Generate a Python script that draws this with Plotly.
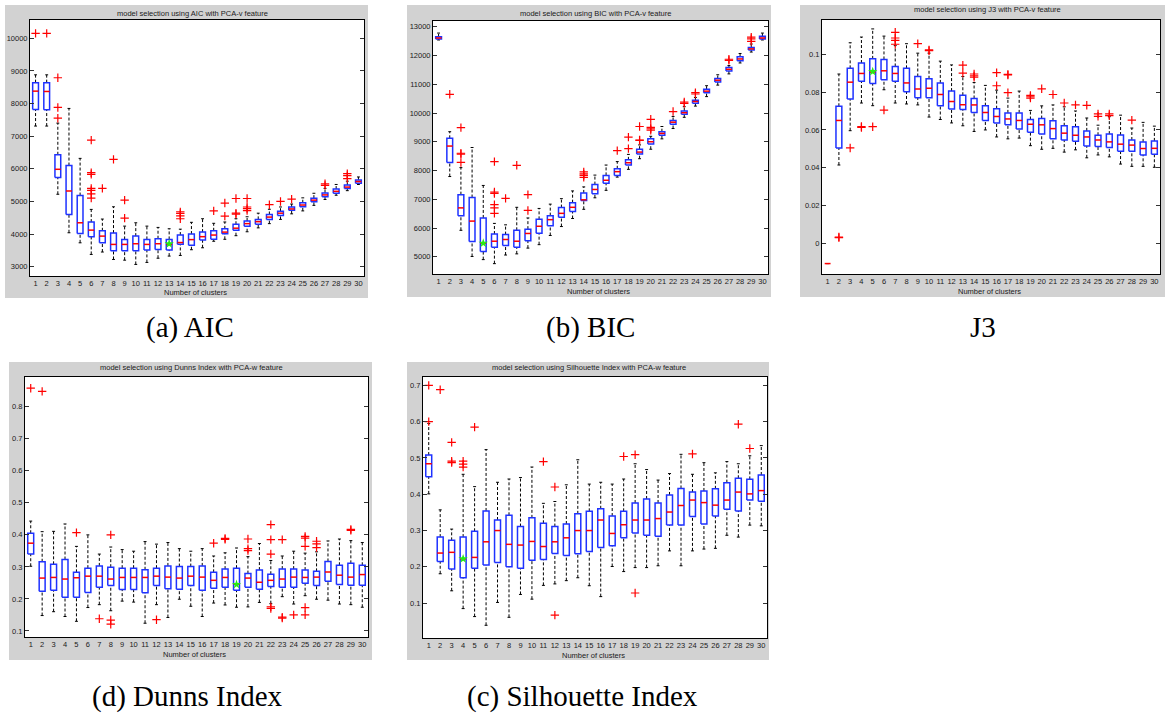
import plotly.graph_objects as go

W, H = 1167, 715
clusters = list(range(1, 31))

# ---------------- AIC ----------------
aic_upper = [8880, 8880, 7400, 7850, 6320, 4756, 4460, 4836, 4244, 4346, 4244, 4204, 4163, 4150, 4360,
             4470, 4330, 4370, 4470, 4530, 4640, 4760, 4830, 4920, 5110, 5250, 5400, 5520, 5620, 5750]
aic_q3 = [8640, 8640, 6430, 6100, 5180, 4367, 4100, 4030, 3836, 3937, 3836, 3857, 3836, 3970, 4000,
          4060, 4100, 4160, 4300, 4400, 4450, 4600, 4700, 4830, 4960, 5100, 5260, 5380, 5500, 5660]
aic_med = [8380, 8370, 5985, 5320, 4346, 4121, 3937, 3683, 3683, 3704, 3683, 3704, 3683, 3740, 3830,
           3920, 3970, 4060, 4180, 4320, 4380, 4520, 4640, 4770, 4890, 5040, 5200, 5310, 5440, 5610]
aic_q1 = [7820, 7810, 5730, 4600, 4020, 3916, 3733, 3487, 3487, 3487, 3508, 3530, 3508, 3690, 3660,
          3820, 3840, 4010, 4120, 4240, 4300, 4450, 4570, 4730, 4840, 4990, 5140, 5250, 5400, 5560]
aic_lower = [7310, 7310, 5220, 4040, 3732, 3376, 3450, 3222, 3200, 3070, 3131, 3260, 3325, 3345, 3520,
             3580, 3780, 3840, 3950, 4070, 4190, 4320, 4450, 4620, 4710, 4880, 5060, 5190, 5330, 5520]
aic_outliers = [[10150], [10150], [8790, 7880, 7550], [], [], [6880, 5880, 5830, 5400, 5340, 5230, 5100],
                [5400], [6290], [5040, 4490], [], [], [], [], [4680, 4630, 4560, 4470], [], [], [4710],
                [4950, 4550], [5090, 4640, 4610], [5090, 4830, 4780, 4720], [], [4900], [5000], [5070],
                [], [], [5540, 5490], [], [5850, 5790, 5700], []]
aic_best = (13, 3700)

# ---------------- BIC ----------------
bic_upper = [12780, 9350, 8100, 8800, 7480, 6160, 6110, 6720, 6350, 6680, 6830, 7020, 7290, 7430, 7840,
             8190, 8310, 8560, 8890, 9190, 9530, 9880, 10220, 10540, 10950, 11330, 11650, 12070, 12400, 12780]
bic_q3 = [12650, 9120, 7160, 7060, 6350, 5790, 5770, 5920, 5960, 6300, 6430, 6710, 6880, 7220, 7510,
          7830, 8060, 8370, 8740, 9100, 9350, 9740, 10070, 10440, 10830, 11200, 11580, 11960, 12280, 12670]
bic_med = [12610, 8850, 6700, 6240, 5470, 5540, 5600, 5540, 5810, 6060, 6290, 6510, 6720, 6980, 7340,
           7660, 7960, 8270, 8640, 9000, 9290, 9680, 10010, 10400, 10760, 11140, 11520, 11880, 12230, 12610]
bic_q1 = [12570, 8280, 6430, 5530, 5180, 5330, 5390, 5330, 5560, 5820, 6080, 6370, 6570, 6960, 7190,
          7560, 7830, 8190, 8570, 8920, 9230, 9610, 9960, 10340, 10700, 11080, 11460, 11820, 12190, 12570]
bic_lower = [12540, 7790, 5920, 5010, 4900, 4760, 5060, 5100, 5300, 5420, 5740, 6050, 6330, 6650, 7050,
             7310, 7770, 8040, 8410, 8740, 9100, 9460, 9850, 10240, 10570, 10970, 11360, 11740, 12120, 12540]
bic_outliers = [[], [10650], [9490, 8600, 8570, 8280], [], [], [8310, 7250, 7200, 6810, 6700, 6510],
                [7030], [8180], [7160, 6610], [], [], [], [], [7950, 7880, 7830, 7760], [], [], [8690],
                [9160, 8760], [9530, 9060, 9050], [9780, 9500, 9450, 9400], [], [10050], [10380, 10330],
                [10710, 10660], [], [], [11870, 11830], [], [12640, 12580, 12490], []]
bic_best = (5, 5470)

# ---------------- J3 ----------------
j3_upper = [-0.0105, 0.0895, 0.1060, 0.1090, 0.1133, 0.1095, 0.1045, 0.1055, 0.1005, 0.1005, 0.0963,
            0.0943, 0.0882, 0.0850, 0.0835, 0.0810, 0.0768, 0.0805, 0.0703, 0.0727, 0.0732, 0.0722,
            0.0700, 0.0663, 0.0625, 0.0670, 0.0678, 0.0610, 0.0640, 0.0620]
j3_q3 = [-0.0105, 0.0725, 0.0925, 0.0953, 0.0975, 0.0972, 0.0935, 0.0925, 0.0882, 0.0870, 0.0848,
         0.0805, 0.0783, 0.0766, 0.0728, 0.0712, 0.0690, 0.0690, 0.0655, 0.0660, 0.0648, 0.0622,
         0.0617, 0.0595, 0.0572, 0.0578, 0.0573, 0.0547, 0.0537, 0.0542]
j3_med = [-0.0105, 0.0650, 0.0852, 0.0898, 0.0905, 0.0912, 0.0898, 0.0848, 0.0816, 0.0820, 0.0787,
          0.0750, 0.0733, 0.0732, 0.0692, 0.0671, 0.0658, 0.0650, 0.0630, 0.0627, 0.0607, 0.0583,
          0.0572, 0.0563, 0.0547, 0.0537, 0.0525, 0.0520, 0.0502, 0.0503]
j3_q1 = [-0.0105, 0.0505, 0.0763, 0.0857, 0.0845, 0.0865, 0.0857, 0.0802, 0.0770, 0.0770, 0.0727,
         0.0710, 0.0708, 0.0692, 0.0650, 0.0637, 0.0627, 0.0605, 0.0588, 0.0578, 0.0553, 0.0547,
         0.0540, 0.0515, 0.0513, 0.0508, 0.0488, 0.0487, 0.0468, 0.0472]
j3_lower = [-0.0105, 0.0415, 0.0596, 0.0742, 0.0728, 0.0812, 0.0742, 0.0737, 0.0732, 0.0668, 0.0655,
            0.0637, 0.0622, 0.0592, 0.0600, 0.0563, 0.0553, 0.0557, 0.0517, 0.0498, 0.0503, 0.0483,
            0.0495, 0.0453, 0.0468, 0.0458, 0.0420, 0.0408, 0.0408, 0.0403]
j3_outliers = [[], [0.0035, 0.0032], [0.0505], [0.0618, 0.0613], [0.0617], [0.0705],
               [0.1115, 0.1085, 0.1072, 0.1052], [], [0.1055], [0.1022, 0.1018], [], [], [0.0942, 0.0900],
               [0.0895, 0.0885, 0.0878], [], [0.0902, 0.0833], [0.0893, 0.0890, 0.0797], [],
               [0.0782, 0.0775, 0.0768], [0.0817], [0.0787], [0.0742], [0.0732], [0.0730],
               [0.0685, 0.0672], [0.0685, 0.0675], [], [0.0652], [], []]
j3_best = (5, 0.0908)

# ---------------- Dunns Index ----------------
dunn_upper = [0.443, 0.410, 0.411, 0.434, 0.364, 0.400, 0.340, 0.362, 0.354, 0.349, 0.379, 0.371, 0.376,
              0.357, 0.349, 0.357, 0.334, 0.344, 0.359, 0.332, 0.373, 0.320, 0.334, 0.349, 0.343, 0.347,
              0.381, 0.387, 0.382, 0.376]
dunn_q3 = [0.405, 0.316, 0.308, 0.323, 0.283, 0.296, 0.303, 0.299, 0.296, 0.296, 0.291, 0.296, 0.303,
           0.301, 0.301, 0.303, 0.283, 0.293, 0.296, 0.279, 0.290, 0.277, 0.293, 0.293, 0.290, 0.286,
           0.317, 0.305, 0.311, 0.305]
dunn_med = [0.374, 0.265, 0.267, 0.262, 0.266, 0.271, 0.271, 0.262, 0.267, 0.267, 0.267, 0.271, 0.268,
            0.265, 0.271, 0.268, 0.258, 0.267, 0.246, 0.265, 0.252, 0.258, 0.262, 0.268, 0.267, 0.268,
            0.284, 0.274, 0.268, 0.276]
dunn_q1 = [0.340, 0.224, 0.227, 0.205, 0.205, 0.220, 0.236, 0.242, 0.229, 0.229, 0.219, 0.242, 0.232,
           0.230, 0.242, 0.227, 0.233, 0.236, 0.227, 0.236, 0.230, 0.239, 0.236, 0.236, 0.249, 0.242,
           0.255, 0.245, 0.243, 0.243]
dunn_lower = [0.302, 0.148, 0.160, 0.145, 0.130, 0.173, 0.182, 0.163, 0.193, 0.190, 0.124, 0.182, 0.142,
              0.199, 0.177, 0.145, 0.187, 0.181, 0.174, 0.175, 0.189, 0.185, 0.207, 0.184, 0.210, 0.199,
              0.196, 0.184, 0.182, 0.174]
dunn_outliers = [[0.858], [0.848], [], [], [0.407], [], [0.138], [0.400, 0.134, 0.121], [], [], [],
                 [0.135], [], [], [], [], [0.374], [0.389, 0.386], [], [0.387, 0.357, 0.351], [],
                 [0.432, 0.385, 0.340, 0.175, 0.170], [0.385, 0.143, 0.140], [0.150],
                 [0.395, 0.390, 0.364, 0.173, 0.150], [0.380, 0.372, 0.360], [], [], [0.417, 0.414], []]
dunn_best = (19, 0.245)

# ---------------- Silhouette Index ----------------
sil_upper = [0.595, 0.357, 0.304, 0.455, 0.421, 0.523, 0.433, 0.442, 0.446, 0.475, 0.375, 0.380, 0.426,
             0.495, 0.428, 0.433, 0.428, 0.442, 0.484, 0.468, 0.439, 0.457, 0.510, 0.455, 0.487, 0.459,
             0.490, 0.484, 0.506, 0.534]
sil_q3 = [0.508, 0.282, 0.273, 0.282, 0.298, 0.354, 0.329, 0.342, 0.311, 0.335, 0.320, 0.311, 0.318,
          0.346, 0.353, 0.360, 0.340, 0.353, 0.376, 0.387, 0.376, 0.398, 0.416, 0.406, 0.409, 0.415,
          0.432, 0.444, 0.441, 0.453]
sil_med = [0.484, 0.238, 0.240, 0.222, 0.226, 0.269, 0.300, 0.262, 0.260, 0.270, 0.256, 0.269, 0.280,
           0.300, 0.300, 0.329, 0.292, 0.316, 0.329, 0.329, 0.333, 0.351, 0.369, 0.384, 0.377, 0.370,
           0.384, 0.406, 0.401, 0.410]
sil_q1 = [0.448, 0.215, 0.194, 0.170, 0.196, 0.205, 0.212, 0.200, 0.196, 0.218, 0.220, 0.237, 0.231,
          0.236, 0.242, 0.253, 0.258, 0.280, 0.293, 0.287, 0.284, 0.315, 0.315, 0.339, 0.318, 0.340,
          0.359, 0.354, 0.384, 0.381]
sil_lower = [0.401, 0.181, 0.134, 0.085, 0.063, 0.039, 0.102, 0.061, 0.124, 0.111, 0.149, 0.153, 0.162,
             0.170, 0.148, 0.118, 0.201, 0.187, 0.198, 0.198, 0.203, 0.244, 0.203, 0.244, 0.249, 0.251,
             0.287, 0.282, 0.315, 0.313]
sil_outliers = [[0.700, 0.600], [0.688], [0.543, 0.491, 0.487], [0.491, 0.483, 0.475], [0.585], [], [],
                [], [], [], [0.490], [0.420, 0.067], [], [], [], [], [], [0.504], [0.509, 0.128], [], [],
                [], [], [0.511], [], [], [], [0.593], [0.526], []]
sil_best = (4, 0.222)

# ---------------- panel layout (pixels in the 1167x715 canvas) ----------------
panels = [
    dict(name="AIC", upper=aic_upper, q3=aic_q3, med=aic_med, q1=aic_q1, lower=aic_lower,
         outliers=aic_outliers, best=aic_best, yrange=[2715, 10560],
         ticks=[3000, 4000, 5000, 6000, 7000, 8000, 9000, 10000],
         ticktext=["3000", "4000", "5000", "6000", "7000", "8000", "9000", "10000"],
         plot=(30, 20, 364, 276), bg=(5, 5, 368, 298),
         title="model selection using AIC with PCA-v feature", title_xy=(192, 14),
         xlab_xy=(195, 292), caption="(a) AIC", cap_xy=(190, 327)),
    dict(name="BIC", upper=bic_upper, q3=bic_q3, med=bic_med, q1=bic_q1, lower=bic_lower,
         outliers=bic_outliers, best=bic_best, yrange=[4400, 13200],
         ticks=[5000, 6000, 7000, 8000, 9000, 10000, 11000, 12000, 13000],
         ticktext=["5000", "6000", "7000", "8000", "9000", "10000", "11000", "12000", "13000"],
         plot=(433, 21, 768, 274), bg=(407, 5, 771, 297),
         title="model selection using BIC with PCA-v feature", title_xy=(595, 14),
         xlab_xy=(598, 291), caption="(b) BIC", cap_xy=(590, 327)),
    dict(name="J3", upper=j3_upper, q3=j3_q3, med=j3_med, q1=j3_q1, lower=j3_lower,
         outliers=j3_outliers, best=j3_best, yrange=[-0.016, 0.118],
         ticks=[0, 0.02, 0.04, 0.06, 0.08, 0.1],
         ticktext=["0", "0.02", "0.04", "0.06", "0.08", "0.1"],
         plot=(822, 20, 1160, 274), bg=(800, 5, 1165, 297),
         title="model selection using J3 with PCA-v feature", title_xy=(987, 10),
         xlab_xy=(990, 291), caption="J3", cap_xy=(983, 327)),
    dict(name="Dunns", upper=dunn_upper, q3=dunn_q3, med=dunn_med, q1=dunn_q1, lower=dunn_lower,
         outliers=dunn_outliers, best=dunn_best, yrange=[0.081, 0.893],
         ticks=[0.1, 0.2, 0.3, 0.4, 0.5, 0.6, 0.7, 0.8],
         ticktext=["0.1", "0.2", "0.3", "0.4", "0.5", "0.6", "0.7", "0.8"],
         plot=(25, 377, 368, 637), bg=(9, 362, 372, 660),
         title="model selection using Dunns Index with PCA-w feature", title_xy=(191, 368),
         xlab_xy=(194, 654), caption="(d) Dunns Index", cap_xy=(187, 696)),
    dict(name="Silhouette", upper=sil_upper, q3=sil_q3, med=sil_med, q1=sil_q1, lower=sil_lower,
         outliers=sil_outliers, best=sil_best, yrange=[0.004, 0.723],
         ticks=[0.1, 0.2, 0.3, 0.4, 0.5, 0.6, 0.7],
         ticktext=["0.1", "0.2", "0.3", "0.4", "0.5", "0.6", "0.7"],
         plot=(423, 377, 767, 638), bg=(407, 362, 769, 660),
         title="model selection using Silhouette Index with PCA-w feature", title_xy=(589, 368),
         xlab_xy=(593, 655), caption="(c) Silhouette Index", cap_xy=(582, 696)),
]

BOX_HALF = 0.26
CAP_HALF = 0.13
BLUE = "rgb(30,50,255)"
RED = "rgb(255,0,0)"
GREEN = "rgb(40,235,20)"
SMALL_FONT = dict(family="Liberation Sans, Arial, sans-serif", size=7.5, color="#1a1a1a")
SERIF_FONT = dict(family="Liberation Serif, Times New Roman, serif", size=29, color="black")


def fx(px):
    return px / W


def fy(py):
    return 1 - py / H


fig = go.Figure()
shapes = []
annotations = []

for i, p in enumerate(panels, start=1):
    xa, ya = f"x{i}", f"y{i}"

    wx, wy, cx, cy, bx, by, mx, my = [], [], [], [], [], [], [], []
    ox, oy = [], []
    for k, up, hi, md, lo_q, low, outs in zip(clusters, p["upper"], p["q3"], p["med"], p["q1"],
                                               p["lower"], p["outliers"]):
        # dashed whiskers
        wx += [k, k, None, k, k, None]
        wy += [hi, up, None, low, lo_q, None]
        # whisker end caps
        cx += [k - CAP_HALF, k + CAP_HALF, None, k - CAP_HALF, k + CAP_HALF, None]
        cy += [up, up, None, low, low, None]
        # box outline (a constant group collapses to its median line only)
        if hi > lo_q:
            bx += [k - BOX_HALF, k + BOX_HALF, k + BOX_HALF, k - BOX_HALF, k - BOX_HALF, None]
            by += [lo_q, lo_q, hi, hi, lo_q, None]
        # median
        mx += [k - BOX_HALF, k + BOX_HALF, None]
        my += [md, md, None]
        for v in outs:
            ox.append(k)
            oy.append(v)

    fig.add_trace(go.Scatter(x=wx, y=wy, mode="lines", xaxis=xa, yaxis=ya,
                             line=dict(color="black", width=1, dash="3px,2px"), hoverinfo="skip"))
    fig.add_trace(go.Scatter(x=cx, y=cy, mode="lines", xaxis=xa, yaxis=ya,
                             line=dict(color="black", width=1), hoverinfo="skip"))
    fig.add_trace(go.Scatter(x=bx, y=by, mode="lines", xaxis=xa, yaxis=ya,
                             line=dict(color=BLUE, width=1.5), hoverinfo="skip"))
    fig.add_trace(go.Scatter(x=mx, y=my, mode="lines", xaxis=xa, yaxis=ya,
                             line=dict(color=RED, width=1.5), hoverinfo="skip"))
    fig.add_trace(go.Scatter(x=ox, y=oy, mode="markers", xaxis=xa, yaxis=ya,
                             marker=dict(symbol="cross-thin", size=6, line=dict(color=RED, width=1.2)),
                             hoverinfo="skip"))
    fig.add_trace(go.Scatter(x=[p["best"][0]], y=[p["best"][1]], mode="markers", xaxis=xa, yaxis=ya,
                             marker=dict(symbol="star", size=7, color=GREEN, line=dict(width=0)),
                             hoverinfo="skip"))

    x0, y0, x1, y1 = p["plot"]
    axis_common = dict(showline=True, linecolor="black", linewidth=1, showgrid=False, zeroline=False,
                       tickfont=SMALL_FONT, fixedrange=True)
    fig.update_layout(**{
        f"xaxis{i}": dict(domain=[fx(x0), fx(x1)], range=[0.5, 30.5], anchor=ya, mirror=True,
                          tickmode="array", tickvals=clusters, ticktext=[str(c) for c in clusters],
                          ticks="", **axis_common),
        f"yaxis{i}": dict(domain=[fy(y1), fy(y0)], range=p["yrange"], anchor=xa, mirror="ticks",
                          tickmode="array", tickvals=p["ticks"], ticktext=p["ticktext"],
                          ticks="inside", ticklen=4, tickcolor="#333", tickwidth=1, **axis_common),
    })

    # grey figure frame and white axes area
    gx0, gy0, gx1, gy1 = p["bg"]
    shapes.append(dict(type="rect", xref="paper", yref="paper", x0=fx(gx0), x1=fx(gx1),
                       y0=fy(gy1), y1=fy(gy0), fillcolor="#d2d2d2", line=dict(width=0), layer="below"))
    shapes.append(dict(type="rect", xref="paper", yref="paper", x0=fx(x0), x1=fx(x1),
                       y0=fy(y1), y1=fy(y0), fillcolor="white", line=dict(width=0), layer="below"))

    annotations.append(dict(text=p["title"], x=fx(p["title_xy"][0]), y=fy(p["title_xy"][1]),
                            xref="paper", yref="paper", showarrow=False, xanchor="center",
                            yanchor="middle", font=SMALL_FONT))
    annotations.append(dict(text="Number of clusters", x=fx(p["xlab_xy"][0]), y=fy(p["xlab_xy"][1]),
                            xref="paper", yref="paper", showarrow=False, xanchor="center",
                            yanchor="middle", font=SMALL_FONT))
    annotations.append(dict(text=p["caption"], x=fx(p["cap_xy"][0]), y=fy(p["cap_xy"][1]),
                            xref="paper", yref="paper", showarrow=False, xanchor="center",
                            yanchor="middle", font=SERIF_FONT))

fig.update_layout(width=W, height=H, margin=dict(l=0, r=0, t=0, b=0), showlegend=False,
                  paper_bgcolor="white", plot_bgcolor="rgba(0,0,0,0)", hovermode=False,
                  shapes=shapes, annotations=annotations)

fig.write_html("out.html", config={"displayModeBar": False})
